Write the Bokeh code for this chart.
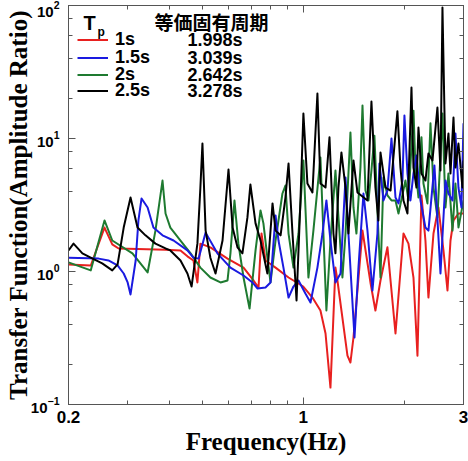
from bokeh.plotting import figure
from bokeh.models import (FixedTicker, LogTicker, LogAxis, Legend, LegendItem, Label,
                          CustomJSTickFormatter, Range1d)
from bokeh.embed import file_html
from bokeh.resources import INLINE

# Transfer function (amplitude ratio) vs. frequency for four pulse periods Tp
freq_1s = [0.200, 0.233, 0.256, 0.270, 0.282, 0.389, 0.431, 0.452, 0.471, 0.484, 0.494, 0.529,
           0.595, 0.664, 0.711, 0.736, 0.751, 0.772, 0.827, 0.904, 1.00, 1.065, 1.125, 1.165,
           1.205, 1.247, 1.264, 1.354, 1.382, 1.411, 1.501, 1.585, 1.640, 1.698, 1.781, 1.882,
           1.988, 2.057, 2.129, 2.188, 2.249, 2.311, 2.359, 2.442, 2.526, 2.615, 2.688, 2.744,
           2.801, 2.898, 3.0]
amp_1s = [1.13, 1.11, 2.14, 1.60, 1.49, 1.46, 1.44, 1.30, 1.21, 0.827, 1.62, 1.52,
          1.25, 1.07, 0.856, 0.758, 1.93, 1.21, 1.07, 0.901, 0.771, 0.637, 0.509, 0.342,
          0.134, 1.07, 0.856, 0.233, 0.207, 0.319, 2.03, 0.827, 0.509, 0.856, 1.52, 0.342,
          1.93, 1.62, 0.901, 0.233, 3.73, 1.71, 0.637, 1.93, 3.03, 1.44, 0.720, 1.71,
          2.42, 2.73, 2.73]

freq_15s = [0.200, 0.246, 0.263, 0.280, 0.292, 0.300, 0.306, 0.317, 0.323, 0.330, 0.344, 0.358,
            0.381, 0.411, 0.452, 0.471, 0.488, 0.512, 0.555, 0.607, 0.664, 0.706, 0.731, 0.772,
            0.799, 0.827, 0.844, 0.873, 0.904, 0.935, 0.968, 1.015, 1.051, 1.102, 1.141, 1.172,
            1.205, 1.247, 1.291, 1.336, 1.363, 1.421, 1.460, 1.511, 1.553, 1.607, 1.663, 1.686,
            1.733, 1.781, 1.831, 1.882, 1.921, 1.974, 2.001, 2.043, 2.085, 2.129, 2.173, 2.234,
            2.311, 2.359, 2.458, 2.562, 2.651, 2.706, 2.782, 2.839, 2.898, 2.958, 3.0]
amp_15s = [1.27, 1.25, 1.21, 1.11, 0.966, 0.827, 0.672, 1.21, 2.42, 3.54, 3.03, 2.14,
           1.87, 1.71, 1.44, 1.27, 1.25, 1.96, 1.37, 1.07, 0.933, 0.827, 0.745, 0.758,
           0.827, 2.64, 1.71, 1.07, 0.637, 0.771, 0.856, 0.683, 0.584, 1.07, 1.93, 3.42,
           1.71, 0.827, 0.966, 5.09, 1.93, 0.319, 1.07, 3.86, 2.03, 0.720, 1.93, 6.49,
           3.42, 4.06, 10.0, 3.60, 3.25, 4.83, 14.9, 5.46, 3.42, 5.46, 7.45, 3.42,
           2.14, 2.03, 6.27, 0.966, 4.83, 3.86, 3.42, 10.9, 4.28, 3.03, 13.0]

freq_2s = [0.200, 0.233, 0.256, 0.270, 0.310, 0.344, 0.363, 0.381, 0.389, 0.402, 0.431, 0.462,
           0.494, 0.529, 0.567, 0.595, 0.607, 0.624, 0.641, 0.664, 0.692, 0.721, 0.746, 0.761,
           0.782, 0.799, 0.827, 0.867, 0.885, 0.904, 0.935, 0.968, 1.001, 1.036, 1.072, 1.125,
           1.172, 1.205, 1.247, 1.273, 1.308, 1.336, 1.382, 1.411, 1.440, 1.480, 1.501, 1.532,
           1.564, 1.596, 1.629, 1.674, 1.698, 1.733, 1.781, 1.831, 1.882, 1.921, 2.015, 2.057,
           2.129, 2.158, 2.203, 2.249, 2.280, 2.343, 2.392, 2.442, 2.509, 2.597, 2.651, 2.706,
           2.782, 2.839, 2.898, 3.0]
amp_2s = [1.17, 1.02, 2.42, 1.71, 1.37, 0.983, 2.03, 4.83, 2.73, 2.14, 1.71, 1.37,
          1.07, 0.901, 0.827, 0.856, 1.37, 3.42, 1.62, 0.901, 0.526, 1.44, 2.88, 2.30,
          1.27, 0.827, 1.71, 3.86, 4.43, 1.93, 1.07, 1.93, 6.84, 0.901, 2.03, 7.20,
          0.509, 1.71, 5.75, 2.55, 0.901, 1.93, 11.1, 3.03, 1.93, 6.05, 17.7, 4.06,
          3.42, 5.75, 10.5, 1.93, 0.901, 5.09, 3.73, 3.42, 3.42, 2.73, 4.83, 3.42,
          16.2, 6.05, 3.60, 10.2, 4.59, 3.25, 13.0, 4.28, 2.55, 15.4, 3.03, 5.46,
          2.03, 4.59, 2.14, 3.42]

freq_25s = [0.200, 0.207, 0.220, 0.236, 0.252, 0.270, 0.280, 0.292, 0.306, 0.321, 0.339, 0.363,
            0.389, 0.402, 0.431, 0.452, 0.465, 0.484, 0.494, 0.501, 0.512, 0.529, 0.548, 0.575,
            0.599, 0.616, 0.637, 0.659, 0.682, 0.696, 0.721, 0.746, 0.782, 0.810, 0.827, 0.856,
            0.885, 0.904, 0.929, 0.955, 0.981, 1.001, 1.029, 1.065, 1.102, 1.125, 1.165, 1.197,
            1.230, 1.247, 1.273, 1.299, 1.336, 1.363, 1.411, 1.450, 1.553, 1.596, 1.640, 1.674,
            1.698, 1.757, 1.819, 1.907, 1.947, 1.988, 2.043, 2.100, 2.129, 2.173, 2.203, 2.249,
            2.311, 2.359, 2.425, 2.509, 2.562, 2.597, 2.651, 2.706, 2.744, 2.801, 2.839, 2.898,
            2.978, 3.0]
amp_25s = [1.44, 1.62, 1.37, 1.25, 1.15, 1.02, 1.13, 2.14, 3.60, 2.14, 1.87, 1.62,
           1.49, 1.44, 1.21, 0.966, 0.771, 1.62, 4.28, 9.17, 2.03, 1.27, 0.966, 1.71,
           5.85, 2.14, 1.52, 1.37, 2.55, 4.51, 2.30, 1.71, 0.966, 3.25, 2.03, 1.87,
           3.60, 6.49, 1.93, 0.605, 3.42, 15.4, 4.59, 3.93, 21.8, 4.59, 4.28, 10.2,
           1.93, 1.37, 4.28, 7.85, 4.28, 1.93, 6.84, 3.93, 3.42, 19.0, 4.28, 2.42,
           7.85, 4.28, 4.06, 16.0, 6.05, 3.42, 2.73, 24.2, 6.05, 4.28, 12.1, 5.46,
           4.83, 7.71, 6.84, 17.1, 5.75, 96.6, 6.49, 10.9, 5.46, 14.4, 6.05, 9.17,
           4.28, 6.84]

series_labels = ["1s", "1.5s", "2s", "2.5s"]
equiv_periods = ["1.998s", "3.039s", "2.642s", "3.278s"]
series_colors = ["#e8201f", "#1a1ae0", "#1e7a30", "#000000"]

x_major = [0.2, 1, 3]
x_minor = [0.3, 0.4, 0.5, 0.6, 0.7, 0.8, 0.9, 2]

SANS = "Liberation Sans"
SERIF = "Liberation Serif"
FRAME = "#555555"

W, H = 468, 461
LEFT, RIGHT, TOP, BOTTOM = 68, 5, 5, 57
FRAME_H = H - TOP - BOTTOM

p = figure(width=W, height=H, x_axis_type="log", y_axis_type="log",
           x_range=Range1d(0.2, 3), y_range=Range1d(0.1, 100),
           output_backend="svg", toolbar_location=None,
           min_border_left=LEFT, min_border_right=RIGHT,
           min_border_top=TOP, min_border_bottom=BOTTOM)
p.grid.visible = False
p.outline_line_color = FRAME
p.background_fill_color = "white"

xt = FixedTicker(ticks=x_major, minor_ticks=x_minor)
yt = LogTicker()

def style_axis(ax):
    ax.axis_line_color = FRAME
    ax.major_tick_line_color = FRAME
    ax.minor_tick_line_color = FRAME
    ax.major_tick_in = 7
    ax.major_tick_out = 0
    ax.minor_tick_in = 4
    ax.minor_tick_out = 0

xa = p.xaxis[0]
xa.ticker = xt
xa.formatter = CustomJSTickFormatter(code="return tick < 1 ? tick.toFixed(1) : tick.toFixed(0);")
xa.axis_label = "Frequency(Hz)"
xa.axis_label_standoff = 2
xa.major_label_text_font_size = "17px"
xa.major_label_standoff = 6

ya = p.yaxis[0]
ya.ticker = yt
ya.axis_label = "Transfer Function(Amplitude Ratio)"
ya.axis_label_standoff = -4
ya.major_label_text_font_size = "15px"
ya.major_label_standoff = 9

for ax in (xa, ya):
    style_axis(ax)
    ax.axis_label_text_font = SERIF
    ax.axis_label_text_font_style = "bold"
    ax.axis_label_text_font_size = "25px"
    ax.axis_label_text_color = "black"
    ax.major_label_text_font = SANS
    ax.major_label_text_font_style = "bold"
    ax.major_label_text_color = "black"

# mirrored tick-only axes on top and right (labels kept invisible)
top = LogAxis(ticker=xt, major_label_text_font_size="1px", major_label_text_alpha=0,
              major_label_standoff=0)
right = LogAxis(ticker=yt, major_label_text_font_size="1px", major_label_text_alpha=0,
                major_label_standoff=0)
style_axis(top)
style_axis(right)
p.add_layout(top, "above")
p.add_layout(right, "right")

data = [(freq_1s, amp_1s), (freq_15s, amp_15s), (freq_2s, amp_2s), (freq_25s, amp_25s)]
renderers = [None] * 4
for i in (0, 2, 1, 3):
    f, a = data[i]
    renderers[i] = p.line(f, a, line_color=series_colors[i], line_width=2, line_join="round")

# one legend per row so the rows can sit closer than the text height
row_centres = [39, 57, 74, 90]          # canvas px from the top edge
ROW_H = 21.7

def frame_y(abs_y):
    return FRAME_H + TOP - abs_y

for lab, r, c in zip(series_labels, renderers, row_centres):
    lg = Legend(items=[LegendItem(label=lab, renderers=[r])],
                location=(9, frame_y(c) - ROW_H / 2), orientation="vertical",
                glyph_width=31, glyph_height=17, label_height=17, label_standoff=7,
                spacing=0, padding=0, margin=0,
                label_text_font=SANS, label_text_font_style="bold", label_text_font_size="18px",
                label_text_color="black",
                border_line_alpha=0, background_fill_alpha=0)
    p.add_layout(lg)

# legend header: Tp and equivalent natural period column
p.add_layout(Label(x=15, y=frame_y(22.5), x_units="screen", y_units="screen", text="T",
                   text_font=SANS, text_font_style="bold", text_font_size="20px",
                   text_baseline="middle", text_color="black"))
p.add_layout(Label(x=29, y=frame_y(31), x_units="screen", y_units="screen", text="p",
                   text_font=SANS, text_font_style="bold", text_font_size="12px",
                   text_baseline="middle", text_color="black"))
p.add_layout(Label(x=86, y=frame_y(21), x_units="screen", y_units="screen", text="等価固有周期",
                   text_font="Noto Sans CJK JP", text_font_style="bold", text_font_size="19px",
                   text_baseline="middle", text_color="black"))
for txt, c in zip(equiv_periods, row_centres):
    p.add_layout(Label(x=119, y=frame_y(c), x_units="screen", y_units="screen", text=txt,
                       text_font=SANS, text_font_style="bold", text_font_size="18px",
                       text_baseline="middle", text_color="black"))

open("out.html", "w").write(file_html(p, INLINE))
